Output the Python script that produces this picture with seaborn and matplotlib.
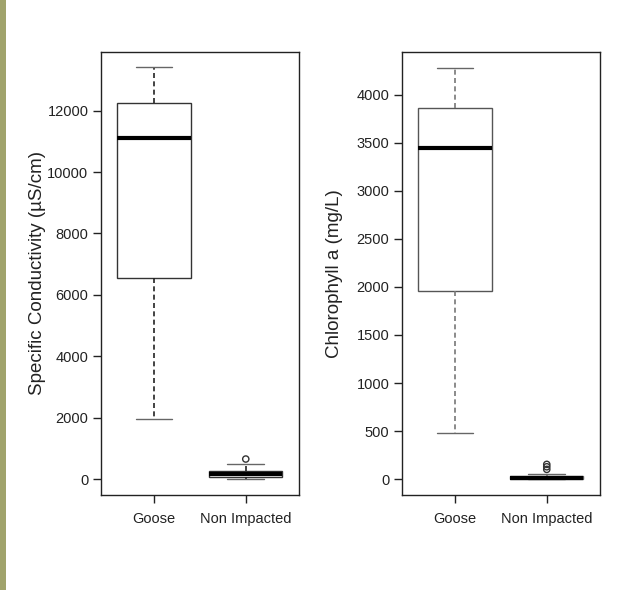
import matplotlib
matplotlib.use("Agg")
import matplotlib.pyplot as plt
from matplotlib.patches import Rectangle
import numpy as np
import pandas as pd
import seaborn as sns

# Site categories
sites = ["Goose", "Non Impacted"]

# Specific conductivity (uS/cm): whisker low, Q1, median, Q3, whisker high
cond_goose = [1945, 6540, 11100, 12260, 13410]
cond_nonimp = [10, 70, 150, 250, 489]
cond_nonimp_outliers = [651]

# Chlorophyll a (mg/L): whisker low, Q1, median, Q3, whisker high
chl_goose = [478, 1961, 3451, 3867, 4280]
chl_nonimp = [0, 4, 15, 28, 52]
chl_nonimp_outliers = [101, 128, 153]

cond_ticks = [0, 2000, 4000, 6000, 8000, 10000, 12000]
chl_ticks = [0, 500, 1000, 1500, 2000, 2500, 3000, 3500, 4000]

sns.set_theme(style="ticks")
plt.rcParams["font.family"] = ["Liberation Sans", "DejaVu Sans"]


def long_frame(goose, nonimp):
    return pd.DataFrame({
        "site": [sites[0]] * len(goose) + [sites[1]] * len(nonimp),
        "value": list(goose) + list(nonimp),
    })


def r_boxplot(ax, df, outliers, ylim, yticks, ylabel, box_col, whisk_col, label_x):
    sns.boxplot(
        data=df, x="site", y="value", order=sites, ax=ax,
        whis=(0, 100), width=0.8, color="white", linecolor=box_col,
        linewidth=1.0, showfliers=False,
        boxprops=dict(facecolor="white", edgecolor=box_col, linewidth=1.0),
        whiskerprops=dict(color=whisk_col, linestyle=(0, (3, 2)), linewidth=1.2),
        capprops=dict(color="#666666", linewidth=1.0),
        medianprops=dict(color="black", linewidth=3.0, solid_capstyle="butt"),
    )
    sns.stripplot(
        x=[sites[1]] * len(outliers), y=outliers, order=sites, ax=ax,
        jitter=False, color="none", edgecolor="#333333", linewidth=1.0,
        size=4.5, zorder=4,
    )
    ax.set_xlim(-0.578, 1.581)
    ax.set_ylim(*ylim)
    ax.set_yticks(yticks)
    ax.set_yticklabels([str(t) for t in yticks])
    ax.set_xticks([0, 1])
    ax.set_xticklabels(sites)
    ax.set_xlabel("")
    ax.set_ylabel(ylabel, fontsize=13.5, color="#222222")
    ax.yaxis.set_label_coords(label_x, 0.5)
    for side in ["left", "right", "top", "bottom"]:
        ax.spines[side].set_visible(True)
        ax.spines[side].set_color("#222222")
        ax.spines[side].set_linewidth(1.0)
    ax.tick_params(axis="both", direction="out", length=6, width=1.0,
                   color="#222222", labelsize=10.5, labelcolor="#222222", pad=3)
    ax.tick_params(axis="x", pad=6)


fig = plt.figure(figsize=(6.21, 5.9), dpi=100)
fig.patch.set_facecolor("white")
fig.patches.append(Rectangle((0, 0), 6 / 621, 1, transform=fig.transFigure,
                             facecolor="#a0a36c", edgecolor="none"))

ax1 = fig.add_axes([0.1626, 0.161, 0.319, 0.7514])
ax2 = fig.add_axes([0.6473, 0.161, 0.319, 0.7514])

r_boxplot(ax1, long_frame(cond_goose, cond_nonimp), cond_nonimp_outliers,
          (-521, 13920), cond_ticks, "Specific Conductivity (\u00b5S/cm)",
          "#333333", "#222222", -0.28)
r_boxplot(ax2, long_frame(chl_goose, chl_nonimp), chl_nonimp_outliers,
          (-166, 4449), chl_ticks, "Chlorophyll a (mg/L)",
          "#555555", "#777777", -0.30)

fig.savefig("out.png", dpi=100)
